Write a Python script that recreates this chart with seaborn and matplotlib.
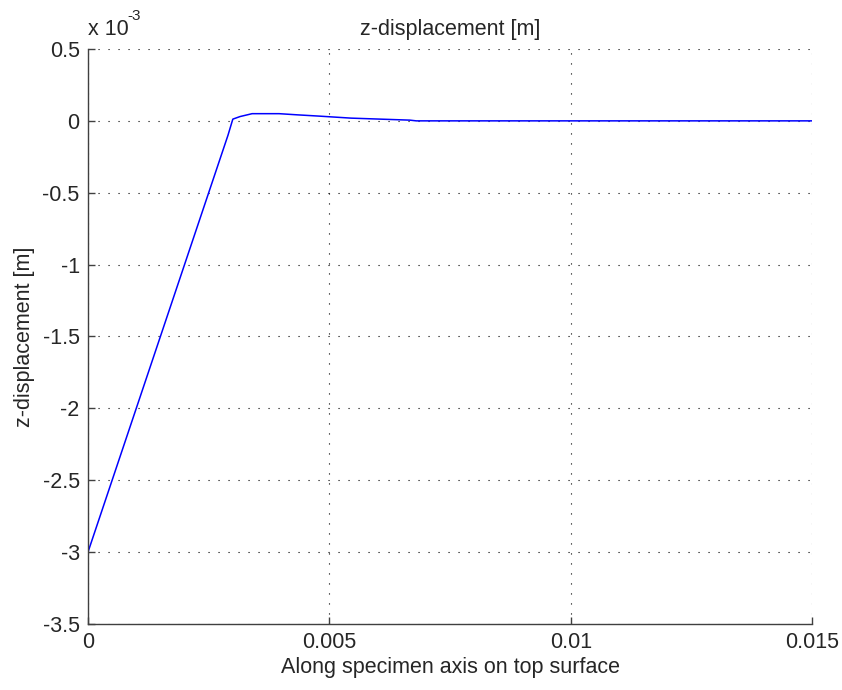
"""Recreate the z-displacement line chart along the specimen top surface."""

import matplotlib

matplotlib.use("Agg")
import matplotlib.pyplot as plt
import pandas as pd
import seaborn as sns

# position along the specimen axis [m]
x_pos = [0.0, 0.0010, 0.0020, 0.0029, 0.0030, 0.00315, 0.0034, 0.00396,
         0.00433, 0.00479, 0.00545, 0.00667, 0.0068, 0.0100, 0.0150]
# z-displacement [m]
z_disp = [-3.0e-3, -2.0e-3, -1.0e-3, -0.1e-3, 0.012e-3, 0.03e-3, 0.05e-3, 0.05e-3,
          0.042e-3, 0.033e-3, 0.019e-3, 0.005e-3, 0.0, 0.0, 0.0]

x_ticks = [0, 0.005, 0.01, 0.015]
x_tick_labels = ["0", "0.005", "0.01", "0.015"]
y_ticks = [0.5e-3, 0, -0.5e-3, -1e-3, -1.5e-3, -2e-3, -2.5e-3, -3e-3, -3.5e-3]
y_tick_labels = ["0.5", "0", "-0.5", "-1", "-1.5", "-2", "-2.5", "-3", "-3.5"]

FS = 15.5
TXT = "#262626"


def main() -> None:
    sns.set_style("white")
    plt.rcParams["font.family"] = ["Liberation Sans", "DejaVu Sans"]

    df = pd.DataFrame({"x": x_pos, "z": z_disp})

    fig = plt.figure(figsize=(8.42, 6.9), dpi=100)
    ax = fig.add_axes([0.1045, 0.0957, 0.86, 0.8333])

    sns.lineplot(data=df, x="x", y="z", ax=ax, color="#0000ff", linewidth=1.1)

    ax.set_xlim(0, 0.015)
    ax.set_ylim(-3.5e-3, 0.5e-3)
    ax.set_xticks(x_ticks)
    ax.set_xticklabels(x_tick_labels)
    ax.set_yticks(y_ticks)
    ax.set_yticklabels(y_tick_labels)

    ax.grid(True, color="black", linestyle=(0, (1, 8)), linewidth=0.8)
    for side in ("top", "right"):
        ax.spines[side].set_visible(False)
    for side in ("left", "bottom"):
        ax.spines[side].set_color("#404040")
        ax.spines[side].set_linewidth(1.0)

    ax.tick_params(direction="in", length=5, width=1, color="#404040",
                   labelsize=FS, labelcolor=TXT, pad=6,
                   left=True, bottom=True)

    ax.set_xlabel("Along specimen axis on top surface", fontsize=FS, color=TXT,
                  labelpad=3)
    ax.set_ylabel("z-displacement [m]", fontsize=FS, color=TXT, labelpad=5)
    ax.set_title("z-displacement [m]", fontsize=FS, color=TXT, pad=10)

    ax.text(0.0, 1.016, "x 10", transform=ax.transAxes, fontsize=FS,
            color=TXT, ha="left", va="bottom")
    ax.text(0.055, 1.045, "-3", transform=ax.transAxes, fontsize=11,
            color=TXT, ha="left", va="bottom")

    fig.savefig("out.png", dpi=100)
    plt.close(fig)


if __name__ == "__main__":
    main()
